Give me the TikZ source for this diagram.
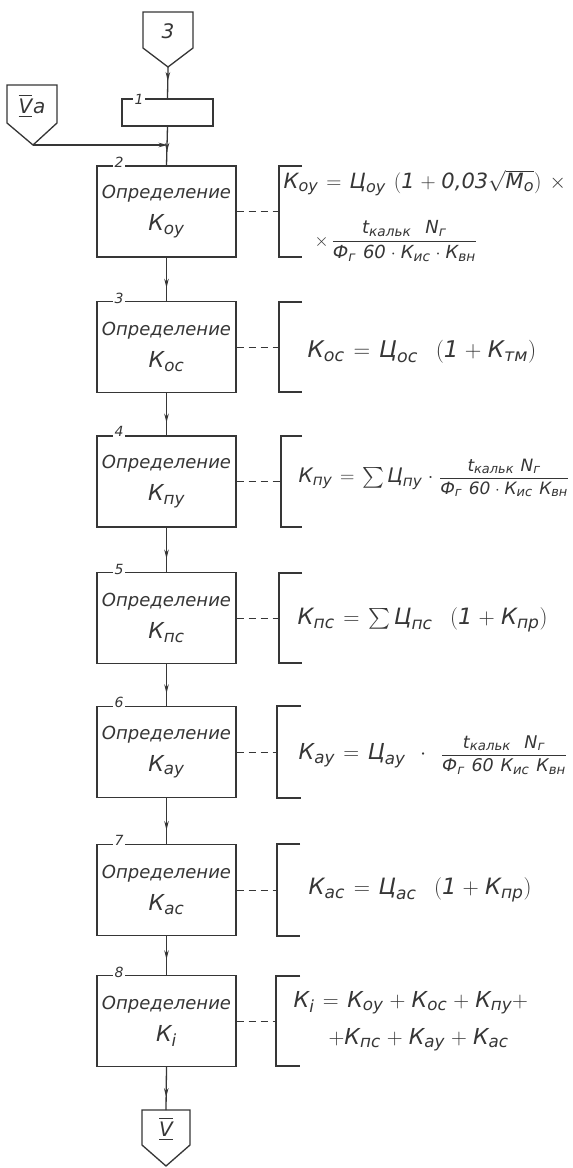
\RequirePackage{fix-cm}
\documentclass[tikz,border=0pt]{standalone}
\usepackage{amsmath}
\usepackage{fontspec}
\setmainfont{DejaVu Sans}
\usetikzlibrary{decorations.markings,arrows.meta}
\definecolor{ink}{HTML}{363636}
\renewcommand{\defaultscriptratio}{.76}
\newcommand{\tx}[1]{\text{\itshape #1}}
\newcommand{\wsp}{\thickmuskip=7mu\relax\medmuskip=5mu\relax}
\newcommand{\fsz}[1]{\fontsize{#1}{#1}\selectfont}
\newcommand{\frc}[3]{\mbox{\fsz{#1}$\dfrac{#2}{#3}$}}
\begin{document}
\begin{tikzpicture}[x=1pt,y=-1pt,line width=1.3pt,color=ink,
  blk/.style={draw,rectangle,minimum width=139pt,minimum height=91pt,align=center,inner sep=0pt,
    font=\fontsize{18}{32}\selectfont\itshape},
  num/.style={fill=white,inner sep=1.2pt,font=\fontsize{14}{14}\selectfont\itshape},
  fml/.style={anchor=west,inner sep=0pt,font=\fsz{22}\itshape\wsp},
  conn/.style={font=\fontsize{20}{20}\selectfont\itshape},
  flow/.style={postaction={decorate},decoration={markings,
    mark=at position #1 with {\arrow{Stealth[length=9pt,width=4.5pt]}}}},
  flow/.default=0.7,
  dashline/.style={dash pattern=on 7pt off 5pt,line width=1pt},
  brk/.style={line width=1.3pt}]
\useasboundingbox (0,0) rectangle (573,1168);
\fill[white] (0,0) rectangle (573,1168);

% off-page connector 3
\draw (143,12) -- (193,12) -- (193,48) -- (168,67) -- (143,48) -- cycle;
\coordinate (c3tip) at (168,67);
\node[conn] (c3) at (168,31) {3};

% block 1
\node[draw,rectangle,minimum width=91pt,minimum height=27pt,inner sep=0pt] (b1) at (167.5,112.5) {};
\node[num] (n1) at (139,99) {1};

% connector Va
\draw (7,85) -- (57,85) -- (57,123) -- (33,145) -- (7,123) -- cycle;
\coordinate (vatip) at (33,145);
\node[conn] (cva) at (32,106) {$\underline{\overline{\tx{V}}}$\kern1pt a};
\coordinate (j) at (167.5,145);

% main blocks
\newcommand{\kk}[1]{\fsz{22}$\tx{К}_{\tx{#1}}$}
\node[blk] (b2) at (166.5,211.5) {Определение\\\kk{оу}};
\node[blk] (b3) at (166.5,347)   {Определение\\\kk{ос}};
\node[blk] (b4) at (166.5,481.5) {Определение\\\kk{пу}};
\node[blk] (b5) at (166.5,618)   {Определение\\\kk{пс}};
\node[blk] (b6) at (166.5,752)   {Определение\\\kk{ау}};
\node[blk] (b7) at (166.5,890)   {Определение\\\kk{ас}};
\node[blk] (b8) at (166.5,1021)  {Определение\\\kk{i}};

\node[num] (n2) at (119,162) {2};
\node[num] (n3) at (119,298) {3};
\node[num] (n4) at (119,431) {4};
\node[num] (n5) at (119,569) {5};
\node[num] (n6) at (119,702) {6};
\node[num] (n7) at (119,840) {7};
\node[num] (n8) at (119,972) {8};

% bottom connector V
\draw (142,1110) -- (190,1110) -- (190,1145) -- (166,1166) -- (142,1145) -- cycle;
\coordinate (vtop) at (166,1110);
\node[conn] (cv) at (166,1129) {$\underline{\overline{\tx{V}}}$};

% flow lines
\draw[flow=0.45] (c3tip) -- (b1.north);
\draw[flow=0.65] (b1.south) -- (b2.north);
\draw[-{Stealth[length=9pt,width=4.5pt]}] (vatip) -- (j);
\draw[flow] (b2.south) -- (b3.north);
\draw[flow] (b3.south) -- (b4.north);
\draw[flow] (b4.south) -- (b5.north);
\draw[flow] (b5.south) -- (b6.north);
\draw[flow] (b6.south) -- (b7.north);
\draw[flow=0.6] (b7.south) -- (b8.north);
\draw[flow] (b8.south) -- (vtop);

% brackets
\draw[brk] (302,166) -- (279,166) -- (279,257) -- (302,257);
\coordinate (k2) at (279,211.5);
\draw[brk] (302,302) -- (279,302) -- (279,392) -- (302,392);
\coordinate (k3) at (279,347);
\draw[brk] (302,436) -- (281,436) -- (281,527) -- (302,527);
\coordinate (k4) at (281,481.5);
\draw[brk] (302,573) -- (279,573) -- (279,663) -- (302,663);
\coordinate (k5) at (279,618);
\draw[brk] (301,706) -- (277,706) -- (277,798) -- (301,798);
\coordinate (k6) at (277,752);
\draw[brk] (300,844) -- (277,844) -- (277,936) -- (300,936);
\coordinate (k7) at (277,890);
\draw[brk] (300,976) -- (276,976) -- (276,1066) -- (300,1066);
\coordinate (k8) at (276,1021);

\draw[dashline] (b2.east) -- (k2);
\draw[dashline] (b3.east) -- (k3);
\draw[dashline] (b4.east) -- (k4);
\draw[dashline] (b5.east) -- (k5);
\draw[dashline] (b6.east) -- (k6);
\draw[dashline] (b7.east) -- (k7);
\draw[dashline] (b8.east) -- (k8);

% formulas
\node[fml,font=\fsz{21}\itshape\wsp] (f2a) at (283,183) {$\tx{К}_{\tx{оу}}=\tx{Ц}_{\tx{оу}}\;(\tx{1}+\tx{0,03}\sqrt{\tx{М}_{\tx{о}}})\;\times$};
\node[fml,font=\fsz{18}\itshape\wsp] (f2b) at (314,241) {$\times\,\dfrac{\tx{t}_{\tx{кальк}}\;\;\tx{N}_{\tx{г}}}{\tx{Ф}_{\tx{г}}\;\tx{60}\cdot\tx{К}_{\tx{ис}}\cdot\tx{К}_{\tx{вн}}}$};
\node[fml,font=\fsz{23}\itshape\wsp] (f3) at (307,352) {$\tx{К}_{\tx{ос}}=\tx{Ц}_{\tx{ос}}\;\;(\tx{1}+\tx{К}_{\tx{тм}})$};
\node[fml,font=\fsz{20}\itshape\wsp] (f4) at (298,478) {$\tx{К}_{\tx{пу}}=\sum\tx{Ц}_{\tx{пу}}\cdot\frc{17}{\tx{t}_{\tx{кальк}}\;\tx{N}_{\tx{г}}}{\tx{Ф}_{\tx{г}}\;\tx{60}\cdot\tx{К}_{\tx{ис}}\;\tx{К}_{\tx{вн}}}$};
\node[fml,font=\fsz{22.5}\itshape\wsp] (f5) at (297,620) {$\tx{К}_{\tx{пс}}=\sum\tx{Ц}_{\tx{пс}}\;\;(\tx{1}+\tx{К}_{\tx{пр}})$};
\node[fml] (f6) at (298,755) {$\tx{К}_{\tx{ау}}=\tx{Ц}_{\tx{ау}}\;\cdot\;\frc{17.5}{\tx{t}_{\tx{кальк}}\;\;\tx{N}_{\tx{г}}}{\tx{Ф}_{\tx{г}}\;\tx{60}\;\tx{К}_{\tx{ис}}\;\tx{К}_{\tx{вн}}}$};
\node[fml,font=\fsz{22.5}\itshape\wsp] (f7) at (308,890) {$\tx{К}_{\tx{ас}}=\tx{Ц}_{\tx{ас}}\;\;(\tx{1}+\tx{К}_{\tx{пр}})$};
\node[fml] (f8a) at (293,1003) {$\tx{К}_{\tx{i}}=\tx{К}_{\tx{оу}}+\tx{К}_{\tx{ос}}+\tx{К}_{\tx{пу}}+$};
\node[fml] (f8b) at (328,1040) {$+\tx{К}_{\tx{пс}}+\tx{К}_{\tx{ау}}+\tx{К}_{\tx{ас}}$};
\end{tikzpicture}
\end{document}
